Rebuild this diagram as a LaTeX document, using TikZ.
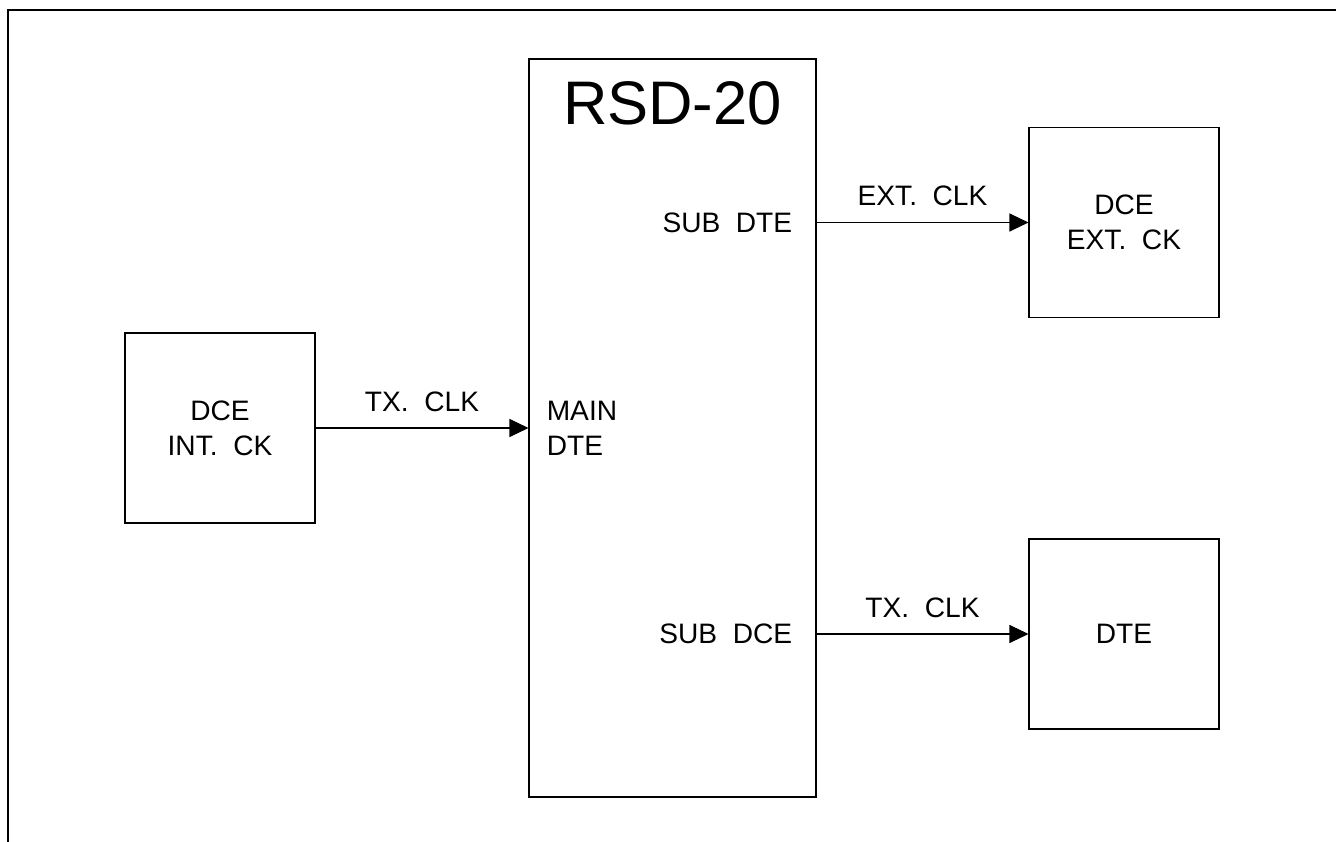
\documentclass[tikz,border=0pt]{standalone}
\usepackage{fontspec}
\setmainfont{Liberation Sans}
\usetikzlibrary{arrows.meta, positioning}

\begin{document}
\begin{tikzpicture}[
    unit/.style={draw, line width=0.6pt, minimum width=3.8cm, minimum height=3.8cm, font=\fontsize{16}{20}\selectfont, align=center, inner sep=0pt},
    arrow/.style={-{Triangle[length=0.38cm, width=0.36cm]}, line width=0.6pt},
    sig/.style={font=\fontsize{16}{20}\selectfont, inner sep=0pt},
]
    \useasboundingbox (0,0) rectangle (26.72,-16.84);
    % Sheet frame
    \draw[line width=1.1pt] (26.72,-0.2) -- (0.16,-0.2) -- (0.16,-16.84);

    % RSD-20 unit
    \node[unit, minimum width=5.74cm, minimum height=14.76cm] (rsd) at (13.45,-8.56) {};
    \node[sig, font=\fontsize{35}{42}\selectfont, anchor=north] (title) at ([yshift=-0.46cm]rsd.north) {RSD-20};

    % Outer equipment
    \node[unit] (dceint) at (4.4,-8.56) {DCE\\INT.~~CK};
    \node[unit] (dceext) at (22.48,-4.45) {DCE\\EXT.~~CK};
    \node[unit] (dte) at (22.48,-12.68) {DTE};

    % Ports
    \node[sig, anchor=west, align=left] (main) at ([xshift=0.36cm]rsd.west) {MAIN\\DTE};
    \node[sig, anchor=east] (subdte) at ([xshift=-0.48cm]rsd.east |- dceext) {SUB~~DTE};
    \node[sig, anchor=east] (subdce) at ([xshift=-0.48cm]rsd.east |- dte) {SUB~~DCE};

    % Clock lines
    \draw[arrow] (dceint) -- (rsd) node[sig, midway, above=9pt] {TX.~~CLK};
    \draw[arrow] (rsd.east |- dceext) -- (dceext) node[sig, midway, above=9pt] {EXT.~~CLK};
    \draw[arrow] (rsd.east |- dte) -- (dte) node[sig, midway, above=9pt] {TX.~~CLK};

\end{tikzpicture}
\end{document}
